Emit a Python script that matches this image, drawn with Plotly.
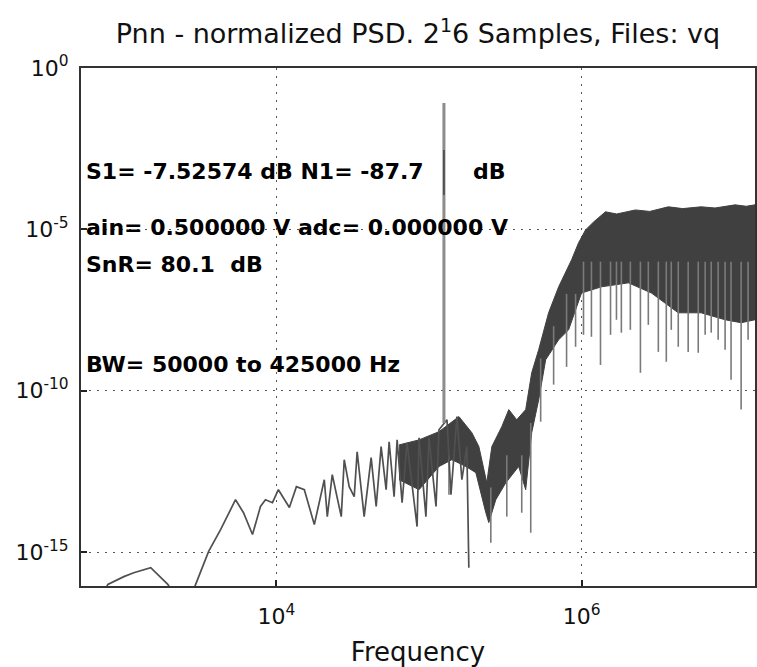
import math
import plotly.graph_objects as go

# ---- data ----
# low-frequency single trace (Hz, normalized PSD)
low_freq = [700, 785, 1000, 1161, 1500, 1940, 2300, 2600, 2955, 3595, 4305, 5395,
            6085, 6970, 7860, 8475, 9420, 10300, 12160, 13520, 15240, 17720, 20590,
            21550, 23230, 26610, 27820, 29990, 32350, 33820, 37590, 41770, 45060,
            48560, 52360, 54800, 59070, 61810, 66650, 71810, 83560, 86090, 95500,
            100000, 111200, 116300, 131200, 139300, 152500, 164300, 177100, 182500]
low_psd = [3e-17, 1.0e-16, 1.74e-16, 2.3e-16, 3.3e-16, 1.0e-16, 3e-17, 2e-17, 1.0e-16,
           1.05e-15, 5.0e-15, 4.2e-14, 1.66e-14, 3.5e-15, 2.6e-14, 4.2e-14, 3.4e-14,
           8.6e-14, 2.4e-14, 1.07e-13, 8.6e-14, 7.1e-15, 1.75e-13, 1.26e-14, 2.5e-13,
           1.26e-14, 7.3e-13, 1.07e-13, 5.2e-14, 1.29e-12, 1.26e-14, 8.5e-13, 2.6e-14,
           1.86e-12, 8.6e-14, 2.6e-12, 5.2e-14, 3.0e-12, 3.4e-14, 2.45e-12, 6.2e-15,
           3.5e-12, 1.26e-14, 3.5e-12, 2.6e-14, 6.2e-12, 1.26e-11, 6.0e-14, 1.58e-11,
           1.75e-13, 1.86e-12, 3.3e-16]

# dense noise band: upper and lower envelopes
band_up_freq = [63680, 86090, 116300, 157100, 191000, 212300, 239300, 258200, 300000,
                333400, 375800, 430500, 471300, 523500, 608100, 707900, 861000, 955000,
                1.062e6, 1.2e6, 1.435e6, 1.7e6, 2.254e6, 2.8e6, 3.707e6, 4.6e6, 6.081e6,
                7.5e6, 1.016e7, 1.2e7, 1.371e7]
band_up_psd = [2.1e-12, 3.0e-12, 5.4e-12, 1.58e-11, 5.0e-12, 1.86e-12, 1.4e-13, 1.86e-12,
               7.7e-12, 2.6e-11, 1.26e-11, 2.6e-11, 3.6e-10, 1.86e-9, 2.6e-8, 1.66e-7,
               1.15e-6, 3.8e-6, 9.6e-6, 1.7e-5, 3.5e-5, 3.0e-5, 4.0e-5, 3.6e-5, 5.0e-5,
               4.4e-5, 5.0e-5, 4.6e-5, 5.75e-5, 5.2e-5, 5.75e-5]
band_lo_freq = [63680, 86090, 116300, 141300, 174600, 202800, 235800, 246600, 274200,
                318600, 387300, 430500, 471300, 523500, 581800, 707900, 822400, 1.0e6,
                1.352e6, 2.029e6, 2.869e6, 4.305e6, 6.081e6, 8.730e6, 1.112e7, 1.371e7]
band_lo_psd = [1.75e-13, 8.6e-14, 4.5e-13, 7.3e-13, 4.5e-13, 2.9e-13, 1.66e-14, 8.2e-15,
               4.2e-14, 1.4e-13, 4.5e-13, 8.6e-14, 5.0e-12, 5.2e-11, 9.1e-10, 3.8e-9,
               7.7e-9, 1.07e-7, 1.66e-7, 2.2e-7, 1.07e-7, 2.6e-8, 2.6e-8, 1.58e-8,
               1.28e-8, 1.58e-8]

# downward spikes below the band
spike_freq = [135200, 254300, 323600, 405500, 464500, 539500, 656100, 797700, 913800,
              1.03e6, 1.161e6, 1.331e6, 1.549e6, 1.694e6, 1.824e6, 2.089e6, 2.432e6,
              2.74e6, 3.187e6, 3.594e6, 3.874e6, 4.305e6, 5.0e6, 5.82e6, 6.46e6, 7.08e6,
              7.86e6, 8.73e6, 9.55e6, 1.112e7, 1.235e7]
spike_top = [1e-12, 1e-13, 1e-12, 1e-12, 1e-11, 1e-9, 1e-8, 1e-7, 1e-7, 1e-6, 1e-6, 1e-6,
             1e-6, 1e-6, 1e-6, 1e-6, 1e-6, 1e-6, 1e-6, 1e-6, 1e-6, 1e-6, 1e-6, 1e-6, 1e-6,
             1e-6, 1e-6, 1e-6, 1e-6, 1e-6, 1e-6]
spike_bot = [6.0e-14, 1.96e-15, 1.26e-14, 1.66e-14, 4.0e-15, 1.1e-11, 1.55e-10, 5.5e-10,
             2.3e-9, 5.4e-9, 4.7e-9, 6.3e-10, 5.4e-9, 1.58e-8, 6.3e-9, 7.7e-9, 3.6e-10,
             1.1e-8, 1.6e-9, 7.9e-10, 7.7e-9, 2.3e-9, 1.6e-9, 1.5e-9, 5.4e-9, 6.3e-9,
             3.8e-9, 1.86e-9, 2.2e-10, 2.6e-11, 3.8e-9]

# signal tone
tone_freq = 125300
tone_top = 0.083
tone_bot = 1e-11
tone_dark_top = 2.9e-3
tone_dark_bot = 1.17e-4

x_ticks = [1e4, 1e6]
x_ticktext = ["10<sup>4</sup>", "10<sup>6</sup>"]
y_ticks = [1, 1e-5, 1e-10, 1e-15]
y_ticktext = ["10<sup>0</sup>", "10<sup>-5</sup>", "10<sup>-10</sup>", "10<sup>-15</sup>"]

title_text = "Pnn - normalized PSD. 2<sup>1</sup>6 Samples, Files: vq"
info_texts = ["S1= -7.52574 dB N1= -87.7", "dB", "ain= 0.500000 V adc= 0.000000 V",
              "SnR= 80.1  dB", "BW= 50000 to 425000 Hz"]
info_xpos = [0.004, 0.579, 0.004, 0.004, 0.004]
info_yval = [10 ** -3.22, 10 ** -3.22, 10 ** -4.95, 10 ** -6.10, 10 ** -9.20]

# ---- figure ----
fig = go.Figure()

# noise band (filled polygon from envelopes)
fig.add_trace(go.Scatter(
    x=band_up_freq + band_lo_freq[::-1],
    y=band_up_psd + band_lo_psd[::-1],
    mode="lines", fill="toself", fillcolor="#404040",
    line=dict(color="#404040", width=1), hoverinfo="skip", showlegend=False))

# spikes
sx, sy = [], []
for f, t, b in zip(spike_freq, spike_top, spike_bot):
    sx += [f, f, None]
    sy += [t, b, None]
fig.add_trace(go.Scatter(x=sx, y=sy, mode="lines",
                         line=dict(color="#7a7a7a", width=1.6),
                         hoverinfo="skip", showlegend=False))

# low frequency trace
fig.add_trace(go.Scatter(x=low_freq, y=low_psd, mode="lines",
                         line=dict(color="#505050", width=1.7),
                         showlegend=False))

# tone
fig.add_trace(go.Scatter(x=[tone_freq, tone_freq], y=[tone_top, tone_bot], mode="lines",
                         line=dict(color="#8c8c8c", width=3), showlegend=False))
fig.add_trace(go.Scatter(x=[tone_freq, tone_freq], y=[tone_dark_top, tone_dark_bot],
                         mode="lines", line=dict(color="#333333", width=1.2),
                         showlegend=False))

for txt, px, yv in zip(info_texts, info_xpos, info_yval):
    fig.add_annotation(text="<b>" + txt + "</b>", xref="paper", yref="y",
                       x=px, y=math.log10(yv),
                       xanchor="left", yanchor="middle", showarrow=False,
                       font=dict(family="DejaVu Sans", size=22, color="black"))

fig.update_layout(
    width=757, height=667,
    margin=dict(l=81, r=0, t=68, b=81),
    paper_bgcolor="white", plot_bgcolor="white",
    title=dict(text=title_text, x=0.5, xref="paper", xanchor="center",
               y=1 - 34 / 667, yref="container", yanchor="middle",
               font=dict(family="DejaVu Sans", size=27, color="#111")),
    font=dict(family="DejaVu Sans", color="#111"),
)
fig.update_xaxes(type="log", range=[2.719, 7.137],
                 tickvals=x_ticks, ticktext=x_ticktext,
                 tickfont=dict(size=22), ticks="inside", ticklen=6, tickwidth=1.5,
                 tickcolor="#222", ticklabelstandoff=10,
                 showline=True, mirror=True, linecolor="#333", linewidth=2,
                 showgrid=True, gridcolor="#555", gridwidth=1, griddash="2px,6px",
                 zeroline=False,
                 title=dict(text="Frequency", font=dict(size=26), standoff=14))
fig.update_yaxes(type="log", range=[-16.05, 0],
                 tickvals=y_ticks, ticktext=y_ticktext,
                 tickfont=dict(size=22), ticks="inside", ticklen=6, tickwidth=1.5,
                 tickcolor="#222", ticklabelstandoff=6,
                 showline=True, mirror=True, linecolor="#333", linewidth=2,
                 showgrid=True, gridcolor="#555", gridwidth=1, griddash="2px,6px",
                 zeroline=False)

fig.write_html("out.html")
